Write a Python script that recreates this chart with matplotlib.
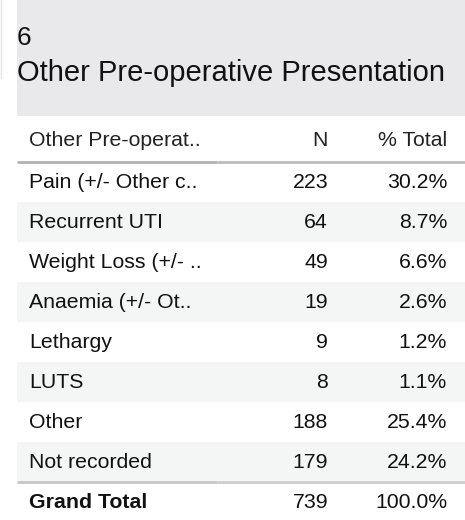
import matplotlib.pyplot as plt
from matplotlib.patches import Rectangle

plt.rcParams['font.family'] = ['Liberation Sans', 'DejaVu Sans']

## data
sheet_no = '6'
title = 'Other Pre-operative Presentation'
col_headers = ['Other Pre-operat..', 'N', '% Total']
categories = ['Pain (+/- Other c..', 'Recurrent UTI', 'Weight Loss (+/- ..',
              'Anaemia (+/- Ot..', 'Lethargy', 'LUTS', 'Other', 'Not recorded']
counts = [223, 64, 49, 19, 9, 8, 188, 179]
pcts = [30.2, 8.7, 6.6, 2.6, 1.2, 1.1, 25.4, 24.2]
total_label = 'Grand Total'
total_n = 739
total_pct = 100.0

W, H = 465, 520
fig = plt.figure(figsize=(W / 100, H / 100), dpi=100)
ax = fig.add_axes([0, 0, 1, 1])
ax.set_xlim(0, W)
ax.set_ylim(H, 0)
ax.axis('off')

# header box
ax.add_patch(Rectangle((17, 0), W - 17, 116, color='#e9e9ec', lw=0))
ax.plot([0.5, 0.5], [0, 78], color='#e4e4e4', lw=1)
ax.text(17, 38, sheet_no, fontsize=19, va='center', ha='left', color='#111111')
ax.text(17, 73, title, fontsize=21, va='center', ha='left', color='#111111')

# table
x_lab, x_n, x_pct = 29, 328, 447
row_h = 40
top = 162
fs = 15.3
ax.text(x_lab, 140, col_headers[0], fontsize=fs, va='center', ha='left', color='#222222')
ax.text(x_n, 140, col_headers[1], fontsize=fs, va='center', ha='right', color='#222222')
ax.text(x_pct, 140, col_headers[2], fontsize=fs, va='center', ha='right', color='#222222')


def sep(y, c1, c2):
    # row divider: slightly darker under the label column
    ax.plot([17, 217], [y, y], color=c1, lw=2, solid_capstyle='butt')
    ax.plot([217, W], [y, y], color=c2, lw=2, solid_capstyle='butt')


for i, (cat, n, p) in enumerate(zip(categories, counts, pcts)):
    y0 = top + i * row_h
    if i % 2 == 1:
        ax.add_patch(Rectangle((17, y0), W - 17, row_h, color='#f4f5f5', lw=0))
    yc = y0 + row_h / 2
    ax.text(x_lab, yc, cat, fontsize=fs, va='center', ha='left', color='#111111')
    ax.text(x_n, yc, f'{n}', fontsize=fs, va='center', ha='right', color='#111111')
    ax.text(x_pct, yc, f'{p:.1f}%', fontsize=fs, va='center', ha='right', color='#111111')

sep(top, '#b2b2b2', '#bcbcbc')
y_tot = top + len(categories) * row_h
sep(y_tot, '#c6c6c6', '#cecece')
yc = y_tot + row_h / 2
ax.text(x_lab, yc, total_label, fontsize=fs, va='center', ha='left', fontweight='bold', color='#111111')
ax.text(x_n, yc, f'{total_n}', fontsize=fs, va='center', ha='right', color='#111111')
ax.text(x_pct, yc, f'{total_pct:.1f}%', fontsize=fs, va='center', ha='right', color='#111111')

fig.savefig('out.png', dpi=100)
